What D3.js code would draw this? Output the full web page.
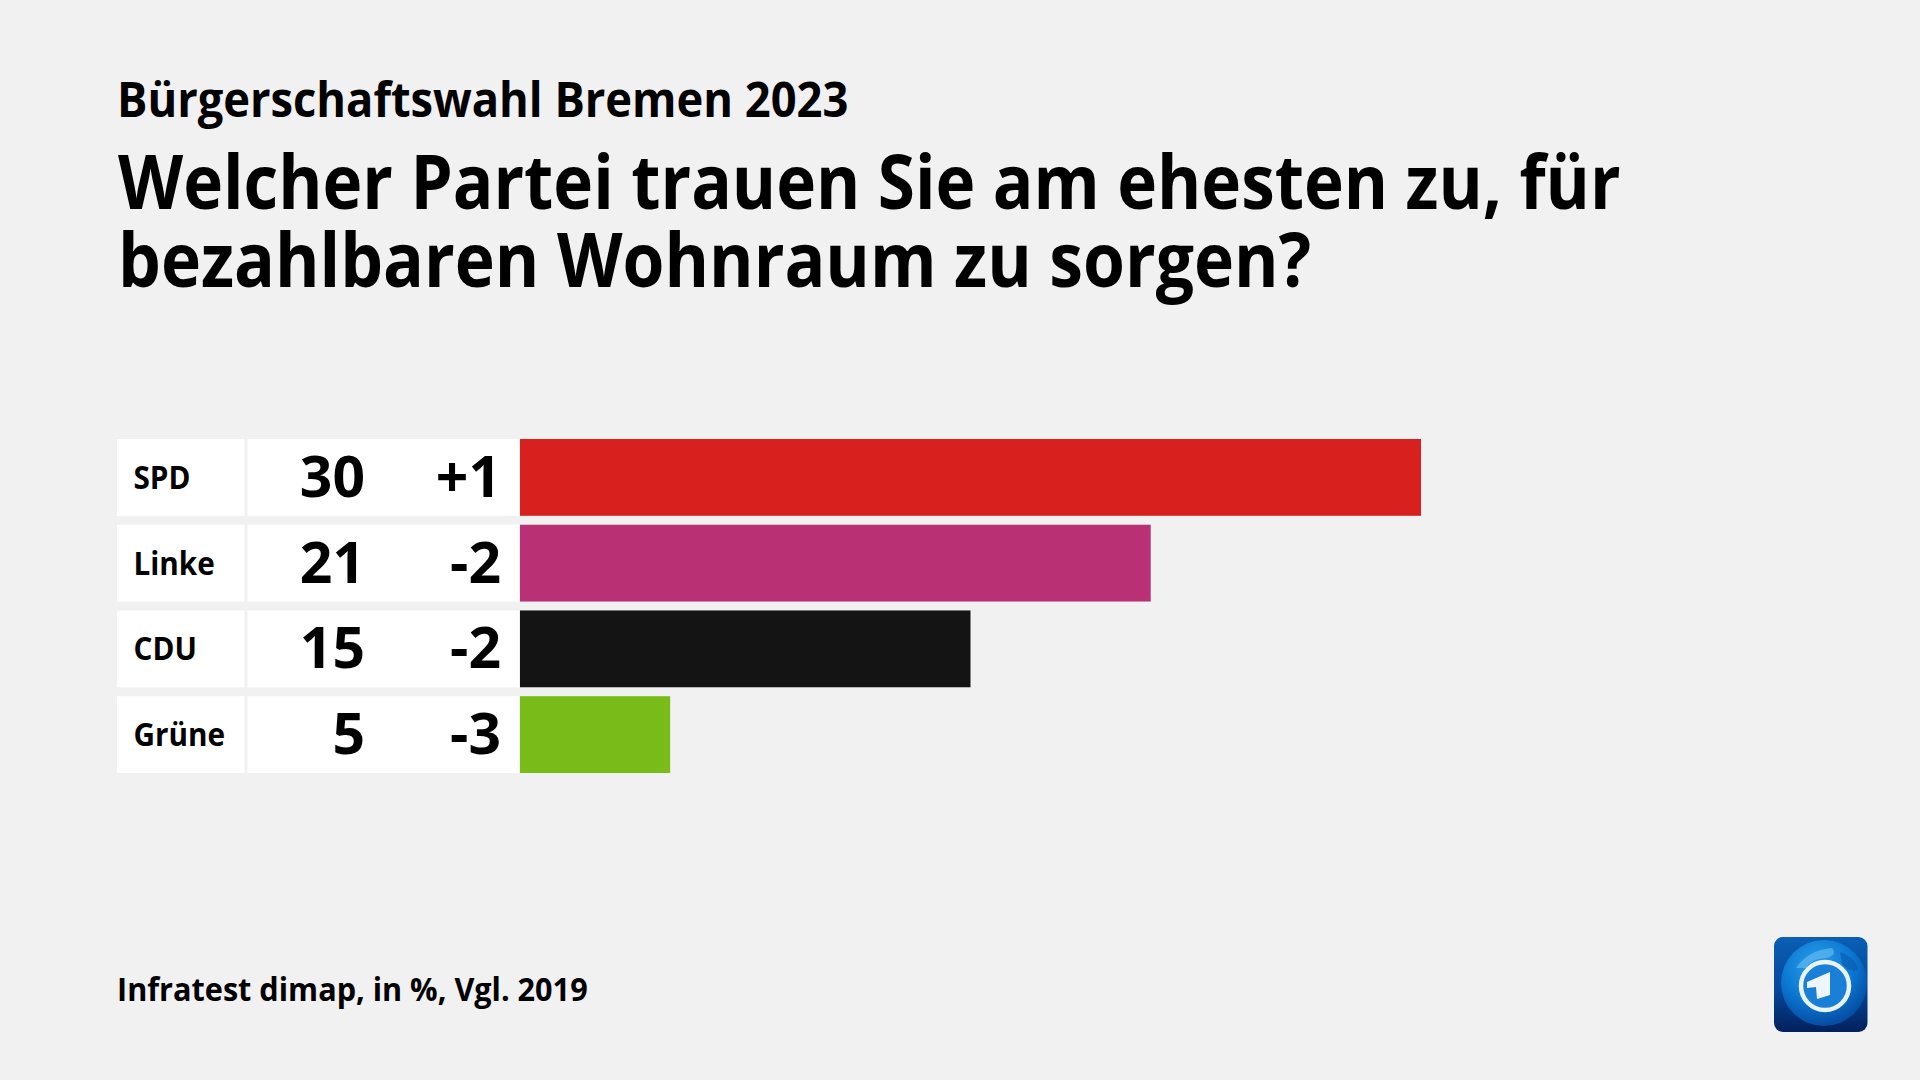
<!DOCTYPE html>
<html lang="de"><head><meta charset="utf-8">
<script src="https://cdn.jsdelivr.net/npm/d3@7"></script>
<style>
html,body{margin:0;padding:0;background:#f1f1f1;overflow:hidden}
text{font-family:"Open Sans","Noto Sans",sans-serif;fill:#000;font-weight:700}
</style></head><body><svg id="c" width="1920" height="1080"></svg>
<script>
const parties=["SPD","Linke","CDU","Grüne"];
const shares=[30,21,15,5];
const changes=["+1","-2","-2","-3"];
const colors=["#d8201e","#ba3074","#141414","#79bc1a"];
const subtitle="Bürgerschaftswahl Bremen 2023";
const titleLines=["Welcher Partei trauen Sie am ehesten zu, für","bezahlbaren Wohnraum zu sorgen?"];
const titleStretch=[.905,.91];
const source="Infratest dimap, in %, Vgl. 2019";

const svg=d3.select("#c");
svg.append("rect").attr("width",1920).attr("height",1080).attr("fill","#f1f1f1");
const x=d3.scaleLinear().domain([0,30]).range([520,1421]);
const y=d3.scaleBand().domain(parties).range([439,773]).paddingInner(0.104).paddingOuter(0);
const place=(px,py,sx)=>`translate(${px},${py}) scale(${sx},1)`;

svg.append("text").attr("transform",place(117,116.5,.943)).attr("font-size",48).text(subtitle);
svg.selectAll(".t").data(titleLines).join("text").attr("class","t")
  .attr("transform",(d,i)=>place(118,208.5+i*78,titleStretch[i])).attr("font-size",74.5).text(d=>d);
svg.append("text").attr("transform",place(117,1000.5,.928)).attr("font-size",33).text(source);

const rows=svg.selectAll(".row").data(parties).join("g").attr("class","row")
  .attr("transform",d=>`translate(0,${y(d)})`);
const bh=y.bandwidth();
rows.append("rect").attr("x",117).attr("width",127.5).attr("height",bh).attr("fill","#fff");
rows.append("rect").attr("x",247.5).attr("width",271.5).attr("height",bh).attr("fill","#fff");
rows.append("rect").attr("x",x(0)).attr("height",bh).attr("width",(d,i)=>x(shares[i])-x(0)).attr("fill",(d,i)=>colors[i]);
rows.append("text").attr("transform",place(133.5,bh/2+11.5,.9)).attr("font-size",33).text(d=>d);
rows.append("text").attr("x",365).attr("y",bh/2+19.5).attr("font-size",57).attr("text-anchor","end").text((d,i)=>shares[i]);
rows.append("text").attr("x",501).attr("y",bh/2+19.5).attr("font-size",57).attr("text-anchor","end").text((d,i)=>changes[i]);

// Logo
const defs=svg.append("defs");
const g1=defs.append("linearGradient").attr("id","bg").attr("x1",0).attr("y1",0).attr("x2",0).attr("y2",1);
g1.append("stop").attr("offset",0).attr("stop-color","#0a5fb4");
g1.append("stop").attr("offset",.55).attr("stop-color","#04489a");
g1.append("stop").attr("offset",1).attr("stop-color","#02205c");
const g2=defs.append("radialGradient").attr("id","gl").attr("cx",.42).attr("cy",.3).attr("r",.75);
g2.append("stop").attr("offset",0).attr("stop-color","#2aa0ea");
g2.append("stop").attr("offset",.55).attr("stop-color","#0b78d2");
g2.append("stop").attr("offset",1).attr("stop-color","#04459a");
const logo=svg.append("g");
logo.append("rect").attr("x",1774).attr("y",937).attr("width",93.5).attr("height",95).attr("rx",9).attr("fill","url(#bg)");
logo.append("circle").attr("cx",1824).attr("cy",983).attr("r",43).attr("fill","url(#gl)");
logo.append("path").attr("d","M1796 968Q1808 950 1832 948Q1838 955 1826 958Q1812 958 1806 968Z").attr("fill","#5db6ee").attr("opacity",.75);
logo.append("path").attr("d","M1840 952Q1856 958 1858 970Q1848 972 1842 964Z").attr("fill","#0a5cb0").attr("opacity",.7);
logo.append("circle").attr("cx",1825).attr("cy",986).attr("r",24).attr("fill","#1a7fd6").attr("stroke","#e8f3fb").attr("stroke-width",4.5);
logo.append("path").attr("d","M1807 982L1830 972L1830 995L1817 999L1816 987L1807 988Z").attr("fill","#eef6fc");
</script></body></html>
